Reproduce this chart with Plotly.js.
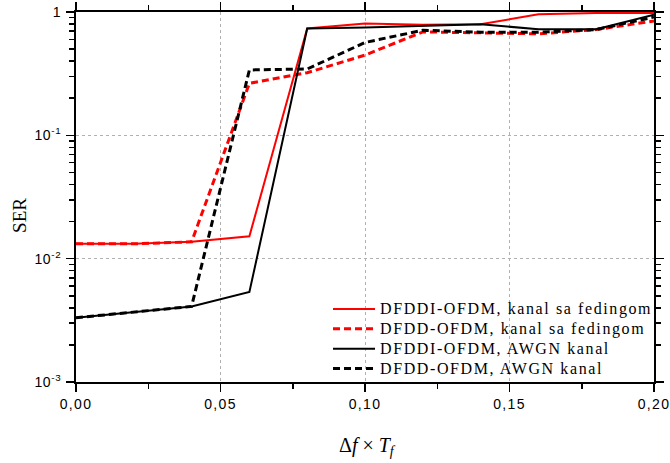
<!DOCTYPE html>
<html>
<head>
<meta charset="utf-8">
<script src="https://cdn.plot.ly/plotly-3.0.1.min.js"></script>
<style>
html,body{margin:0;padding:0;background:#fff;overflow:hidden;}
#chart{width:670px;height:463px;}
#chart .legendtext{letter-spacing:1.6px;font-size:16px !important;}
#chart g.legend g.scrollbox{clip-path:none !important;}
#chart .xtick text{letter-spacing:1.3px;}
#chart .ytick text{letter-spacing:0.6px;}
</style>
</head>
<body>
<div id="chart"></div>
<script>
const xValues = [0.00, 0.02, 0.04, 0.06, 0.08, 0.10, 0.12, 0.14, 0.16, 0.18, 0.20];
const serDfddiFading = [0.0132, 0.0132, 0.0137, 0.0152, 0.734, 0.805, 0.79, 0.795, 0.957, 0.98, 0.98];
const serDfddFading  = [0.0132, 0.0132, 0.0137, 0.264, 0.322, 0.447, 0.69, 0.68, 0.665, 0.72, 0.846];
const serDfddiAwgn   = [0.00332, 0.00367, 0.0041, 0.00537, 0.734, 0.748, 0.77, 0.795, 0.725, 0.725, 0.95];
const serDfddAwgn    = [0.00332, 0.00367, 0.0041, 0.339, 0.345, 0.566, 0.711, 0.686, 0.686, 0.72, 0.91];
const seriesNames = [
  'DFDDI-OFDM, kanal sa fedingom',
  'DFDD-OFDM, kanal sa fedingom',
  'DFDDI-OFDM, AWGN kanal',
  'DFDD-OFDM, AWGN kanal'
];
const xTickVals = [0, 0.05, 0.10, 0.15, 0.20];
const yTickVals = [0.001, 0.01, 0.1, 1];
const yTickText = ['10<sup>-3</sup>', '10<sup>-2</sup>', '10<sup>-1</sup>', '1'];
const yTitle = 'SER';
const xTitle = 'Δ<i>f</i> × <i>T<sub>f</sub></i>';

const yMinor = [];
[0.001, 0.01, 0.1].forEach(d => { for (let k = 2; k <= 9; k++) yMinor.push(d * k); });

const SERIF = '"Liberation Serif", "Times New Roman", Times, serif';
const SANS = '"Liberation Sans", Arial, Helvetica, sans-serif';

const traces = [
  {x: xValues, y: serDfddiFading, name: seriesNames[0], mode: 'lines', line: {color: '#ff0000', width: 2}},
  {x: xValues, y: serDfddFading, name: seriesNames[1], mode: 'lines', line: {color: '#ff0000', width: 3, dash: '7px,4px'}},
  {x: xValues, y: serDfddiAwgn, name: seriesNames[2], mode: 'lines', line: {color: '#000000', width: 2}},
  {x: xValues, y: serDfddAwgn, name: seriesNames[3], mode: 'lines', line: {color: '#000000', width: 3, dash: '7px,4px'}}
];

const layout = {
  width: 670, height: 463, autosize: false,
  margin: {l: 76, r: 16, t: 12, b: 81, autoexpand: false},
  paper_bgcolor: '#ffffff', plot_bgcolor: '#ffffff',
  separators: ',.',
  showlegend: true,
  legend: {
    x: 0.436, y: 0.238, xanchor: 'left', yanchor: 'top',
    bgcolor: 'rgba(0,0,0,0)', borderwidth: 0,
    font: {family: SERIF, size: 13, color: '#000'},
    tracegroupgap: 0, itemwidth: 42
  },
  annotations: [
    {
      text: yTitle, xref: 'paper', yref: 'paper', x: -0.099, y: 0.451,
      xanchor: 'center', yanchor: 'middle', textangle: -90, showarrow: false,
      font: {family: SERIF, size: 19, color: '#000'}
    },
    {
      text: xTitle, xref: 'paper', yref: 'paper', x: 0.505, y: -0.175,
      xanchor: 'center', yanchor: 'middle', showarrow: false,
      font: {family: SERIF, size: 20, color: '#000'}
    }
  ],
  xaxis: {
    range: [0, 0.2], tickvals: xTickVals, tickformat: '.2f', automargin: false,
    ticks: 'outside', ticklen: 8, tickwidth: 1.5, tickcolor: '#000',
    minor: {dtick: 0.025, ticks: 'outside', ticklen: 5, tickcolor: '#000', showgrid: false},
    showline: true, linecolor: '#000', linewidth: 2, mirror: 'ticks',
    showgrid: true, gridcolor: '#b0b0b0', griddash: 'dot', gridwidth: 1,
    zeroline: false,
    tickfont: {family: SANS, size: 14, color: '#000'}
  },
  yaxis: {
    type: 'log', range: [-3, 0], tickvals: yTickVals, ticktext: yTickText, automargin: false,
    ticks: 'outside', ticklen: 8, tickwidth: 1.5, tickcolor: '#000',
    minor: {tickvals: yMinor, ticks: 'outside', ticklen: 5, tickcolor: '#000', showgrid: false},
    showline: true, linecolor: '#000', linewidth: 2, mirror: 'ticks',
    showgrid: true, gridcolor: '#b0b0b0', griddash: 'dot', gridwidth: 1,
    zeroline: false, ticklabelstandoff: 2,
    tickfont: {family: SANS, size: 14, color: '#000'}
  }
};

Plotly.newPlot('chart', traces, layout, {displayModeBar: false, staticPlot: true});
</script>
</body>
</html>
